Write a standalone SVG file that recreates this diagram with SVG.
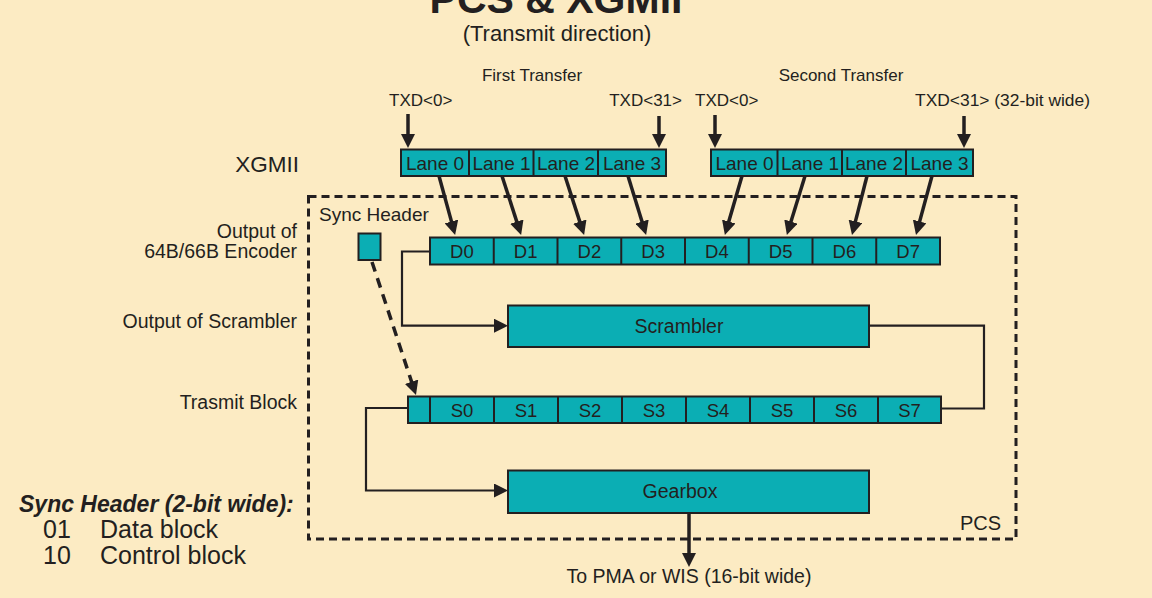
<svg xmlns="http://www.w3.org/2000/svg" width="1152" height="598" viewBox="0 0 1152 598">
<style>
text{font-family:"Liberation Sans",Arial,sans-serif;fill:#231F20}
.mid{text-anchor:middle}
.end{text-anchor:end}
.small{font-size:17px}
.lane{font-size:19px;text-anchor:middle}
.cell{font-size:18.5px;text-anchor:middle}
.lbl{font-size:19.5px}
.box{fill:#0BAEB4;stroke:#231F20;stroke-width:2}
.div{stroke:#231F20;stroke-width:2}
.thick{stroke:#231F20;stroke-width:3.5;fill:none}
.thin{stroke:#231F20;stroke-width:2.2;fill:none}
.dash{stroke:#231F20;stroke-width:3.5;fill:none;stroke-dasharray:10 7}
</style>
<defs>
<marker id="ah" markerUnits="userSpaceOnUse" viewBox="0 0 14 14" refX="1" refY="7" markerWidth="14" markerHeight="14" orient="auto">
<path d="M0,0 L14,7 L0,14 z" fill="#231F20"/>
</marker>
</defs>
<rect width="1152" height="598" fill="#FCEBC3"/>

<g id="titles">
<text x="556" y="13" class="mid" style="font-size:41px;font-weight:bold">PCS &amp; XGMII</text>
<text x="557" y="41" class="mid" style="font-size:22px">(Transmit direction)</text>
<text x="532" y="80.5" class="mid small">First Transfer</text>
<text x="841" y="80.5" class="mid small">Second Transfer</text>
<text x="389" y="106" class="small">TXD&lt;0&gt;</text>
<text x="682" y="106" class="small end">TXD&lt;31&gt;</text>
<text x="695" y="106" class="small">TXD&lt;0&gt;</text>
<text x="1090" y="106" class="small end" style="font-size:17.4px">TXD&lt;31&gt; (32-bit wide)</text>
</g>

<g id="side-labels">
<text x="299" y="171.5" class="end" style="font-size:22.5px">XGMII</text>
<text x="297" y="238" class="end lbl">Output of</text>
<text x="297" y="258" class="end lbl">64B/66B Encoder</text>
<text x="297" y="328" class="end lbl">Output of Scrambler</text>
<text x="297" y="409" class="end lbl">Trasmit Block</text>
</g>

<g id="pcs">
<rect x="308.5" y="196.5" width="707.5" height="342.5" fill="none" stroke="#231F20" stroke-width="3" stroke-dasharray="8 5"/>
<text x="1001" y="530" class="end lbl" style="font-size:20px">PCS</text>
</g>

<g id="xgmii-first">
<rect x="401" y="149.5" width="265" height="26.5" class="box"/>
<line x1="469" y1="149.5" x2="469" y2="176" class="div"/>
<line x1="533.5" y1="149.5" x2="533.5" y2="176" class="div"/>
<line x1="598" y1="149.5" x2="598" y2="176" class="div"/>
<text x="435" y="170" class="lane">Lane 0</text>
<text x="501.5" y="170" class="lane">Lane 1</text>
<text x="566" y="170" class="lane">Lane 2</text>
<text x="632" y="170" class="lane">Lane 3</text>
</g>

<g id="xgmii-second">
<rect x="711" y="149.5" width="262" height="26.5" class="box"/>
<line x1="777.5" y1="149.5" x2="777.5" y2="176" class="div"/>
<line x1="842" y1="149.5" x2="842" y2="176" class="div"/>
<line x1="906" y1="149.5" x2="906" y2="176" class="div"/>
<text x="744.5" y="170" class="lane">Lane 0</text>
<text x="810" y="170" class="lane">Lane 1</text>
<text x="874" y="170" class="lane">Lane 2</text>
<text x="939.5" y="170" class="lane">Lane 3</text>
</g>

<g id="sync-header">
<text x="319" y="221" class="lbl" style="font-size:19px">Sync Header</text>
<rect x="358.5" y="233.5" width="22" height="26.5" class="box"/>
</g>

<g id="encoder-output">
<rect x="430" y="237.5" width="510" height="27" class="box"/>
<line x1="493.75" y1="237.5" x2="493.75" y2="264.5" class="div"/>
<line x1="557.5" y1="237.5" x2="557.5" y2="264.5" class="div"/>
<line x1="621.25" y1="237.5" x2="621.25" y2="264.5" class="div"/>
<line x1="685" y1="237.5" x2="685" y2="264.5" class="div"/>
<line x1="748.75" y1="237.5" x2="748.75" y2="264.5" class="div"/>
<line x1="812.5" y1="237.5" x2="812.5" y2="264.5" class="div"/>
<line x1="876.25" y1="237.5" x2="876.25" y2="264.5" class="div"/>
<text x="461.9" y="258" class="cell">D0</text>
<text x="525.6" y="258" class="cell">D1</text>
<text x="589.4" y="258" class="cell">D2</text>
<text x="653.1" y="258" class="cell">D3</text>
<text x="716.9" y="258" class="cell">D4</text>
<text x="780.6" y="258" class="cell">D5</text>
<text x="844.4" y="258" class="cell">D6</text>
<text x="908.1" y="258" class="cell">D7</text>
</g>

<g id="scrambler">
<rect x="508" y="305.5" width="361" height="41.5" class="box"/>
<text x="679" y="333" class="mid lbl">Scrambler</text>
</g>

<g id="transmit-block">
<rect x="408" y="396.5" width="533" height="26.5" class="box"/>
<line x1="430" y1="396.5" x2="430" y2="423" class="div"/>
<line x1="494" y1="396.5" x2="494" y2="423" class="div"/>
<line x1="558" y1="396.5" x2="558" y2="423" class="div"/>
<line x1="622" y1="396.5" x2="622" y2="423" class="div"/>
<line x1="686" y1="396.5" x2="686" y2="423" class="div"/>
<line x1="750" y1="396.5" x2="750" y2="423" class="div"/>
<line x1="814" y1="396.5" x2="814" y2="423" class="div"/>
<line x1="878" y1="396.5" x2="878" y2="423" class="div"/>
<text x="462" y="417" class="cell">S0</text>
<text x="526" y="417" class="cell">S1</text>
<text x="590" y="417" class="cell">S2</text>
<text x="654" y="417" class="cell">S3</text>
<text x="718" y="417" class="cell">S4</text>
<text x="782" y="417" class="cell">S5</text>
<text x="846" y="417" class="cell">S6</text>
<text x="909.5" y="417" class="cell">S7</text>
</g>

<g id="gearbox">
<rect x="508" y="470.5" width="361" height="42.5" class="box"/>
<text x="680" y="498" class="mid lbl">Gearbox</text>
<text x="689" y="583" class="mid lbl">To PMA or WIS (16-bit wide)</text>
</g>

<g id="legend">
<text x="19" y="512" style="font-size:23px;font-weight:bold;font-style:italic">Sync Header (2-bit wide):</text>
<text x="43" y="538" style="font-size:25px">01</text>
<text x="100" y="538" style="font-size:25px">Data block</text>
<text x="43" y="564" style="font-size:25px">10</text>
<text x="100" y="564" style="font-size:25px">Control block</text>
</g>

<g id="connectors">
<line x1="408" y1="114" x2="408" y2="135" class="thick" marker-end="url(#ah)"/>
<line x1="659" y1="116" x2="659" y2="135" class="thick" marker-end="url(#ah)"/>
<line x1="715" y1="115" x2="715" y2="135" class="thick" marker-end="url(#ah)"/>
<line x1="964" y1="116" x2="964" y2="135" class="thick" marker-end="url(#ah)"/>

<line x1="439" y1="176" x2="451.7" y2="222.4" class="thick" marker-end="url(#ah)"/>
<line x1="502" y1="176" x2="517.1" y2="222.6" class="thick" marker-end="url(#ah)"/>
<line x1="565" y1="176" x2="580.1" y2="222.6" class="thick" marker-end="url(#ah)"/>
<line x1="628" y1="176" x2="642.3" y2="222.5" class="thick" marker-end="url(#ah)"/>
<line x1="742" y1="176" x2="728.5" y2="222.5" class="thick" marker-end="url(#ah)"/>
<line x1="805" y1="176" x2="790.7" y2="222.5" class="thick" marker-end="url(#ah)"/>
<line x1="867" y1="176" x2="855.2" y2="222.4" class="thick" marker-end="url(#ah)"/>
<line x1="932" y1="176" x2="919.4" y2="222.4" class="thick" marker-end="url(#ah)"/>

<path d="M430,251.5 H402 V325.7 H495" class="thin" marker-end="url(#ah)"/>
<path d="M869,325.7 H984 V408.5 H941" class="thin"/>
<path d="M372,262 L411.9,382.7" class="dash" marker-end="url(#ah)"/>
<path d="M408,408 H366 V490.5 H495" class="thin" marker-end="url(#ah)"/>
<line x1="689" y1="513" x2="689" y2="554" class="thick" marker-end="url(#ah)"/>
</g>
</svg>
